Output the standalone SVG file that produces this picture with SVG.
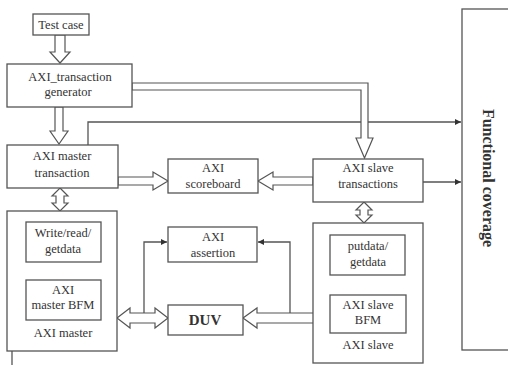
<svg xmlns="http://www.w3.org/2000/svg" width="508" height="365" viewBox="0 0 508 365">
<defs>
<style>
.box{fill:#fff;stroke:#555;stroke-width:1.3}
.t{font-family:"Liberation Serif","Times New Roman",serif;font-size:12.5px;fill:#333;text-anchor:middle}
.b{font-weight:bold}
.ln{fill:none;stroke:#555;stroke-width:1.3}
.ha{fill:#fff;stroke:#555;stroke-width:1.2;stroke-linejoin:miter}
</style>
<marker id="ah" viewBox="0 0 8 8" refX="8" refY="4" markerWidth="6" markerHeight="6" markerUnits="userSpaceOnUse" orient="auto">
<path d="M0,0 L8,4 L0,8 z" fill="#333"/>
</marker>
</defs>
<rect width="508" height="365" fill="#fff"/>

<g id="connectors">
<path class="ln" d="M88,145 V122 H461" marker-end="url(#ah)"/>
<path class="ln" d="M423,182 H461" marker-end="url(#ah)"/>
<path class="ln" d="M144,318 V242 H167" marker-end="url(#ah)"/>
<path class="ln" d="M290,318 V242 H258" marker-end="url(#ah)"/>
<path class="ln" d="M12,351 V365"/>
<polygon class="ha" points="55,35 65,35 65,52 70,52 60,63 50,52 55,52"/>
<polygon class="ha" points="55,107 63,107 63,131 68,131 59,144 50,131 55,131"/>
<polygon class="ha" points="60,188 68,196 64,196 64,203 68,203 60,211 52,203 56,203 56,196 52,196"/>
<polygon class="ha" points="118,177 153,177 153,172 168,181 153,190 153,185 118,185"/>
<polygon class="ha" points="313,177 273,177 273,172 258,181 273,190 273,185 313,185"/>
<polygon class="ha" points="132,83 368,83 368,138 373,138 364.5,158 356,138 361,138 361,90 132,90"/>
<polygon class="ha" points="364,202 372,210 368,210 368,215 372,215 364,223 356,215 360,215 360,210 356,210"/>
<polygon class="ha" points="365,275 373,282 369,282 369,288 373,288 365,295 357,288 361,288 361,282 357,282"/>
<polygon class="ha" points="117,318 130,308 130,313 155,313 155,308 168,318 155,328 155,323 130,323 130,328"/>
<polygon class="ha" points="243,318 257,308 257,313 316,313 316,308 330,318 316,328 316,323 257,323 257,328"/>
</g>

<g id="test-case">
<rect class="box" x="33" y="14" width="56" height="21"/>
<text class="t" x="61" y="29">Test case</text>
</g>

<g id="generator">
<rect class="box" x="7" y="64" width="125" height="43"/>
<text class="t" x="70" y="80.5">AXI_transaction</text>
<text class="t" x="68" y="95.5">generator</text>
</g>

<g id="master-transaction">
<rect class="box" x="7" y="145" width="111" height="43"/>
<text class="t" x="62" y="160">AXI master</text>
<text class="t" x="62" y="176.5">transaction</text>
</g>

<g id="scoreboard">
<rect class="box" x="168" y="159" width="90" height="34"/>
<text class="t" x="213" y="172">AXI</text>
<text class="t" x="213" y="187.5">scoreboard</text>
</g>

<g id="slave-transactions">
<rect class="box" x="313" y="159" width="110" height="43"/>
<text class="t" x="368" y="172">AXI slave</text>
<text class="t" x="368" y="188">transactions</text>
</g>

<g id="functional-coverage">
<rect class="box" x="462" y="9" width="60" height="341"/>
<text class="t b" x="178" y="-483" transform="rotate(90)" style="font-size:16px">Functional coverage</text>
</g>

<g id="axi-master">
<rect class="box" x="7" y="211" width="110" height="140"/>
<rect class="box" x="26" y="222" width="75" height="40"/>
<text class="t" x="63" y="236.5">Write/read/</text>
<text class="t" x="63" y="252.5">getdata</text>
<rect class="box" x="26" y="280" width="75" height="40"/>
<text class="t" x="63" y="294">AXI</text>
<text class="t" x="63" y="308.5">master BFM</text>
<text class="t" x="63" y="336.5">AXI master</text>
</g>

<g id="assertion">
<rect class="box" x="168" y="227" width="89" height="35"/>
<text class="t" x="213" y="240.5">AXI</text>
<text class="t" x="213" y="256.5">assertion</text>
</g>

<g id="duv">
<rect class="box" x="168" y="305" width="75" height="30"/>
<text class="t b" x="205" y="325" style="font-size:15px">DUV</text>
</g>

<g id="axi-slave">
<rect class="box" x="313" y="223" width="110" height="140"/>
<rect class="box" x="330" y="235" width="75" height="40"/>
<text class="t" x="368" y="249.5">putdata/</text>
<text class="t" x="368" y="266">getdata</text>
<rect class="box" x="330" y="295" width="76" height="38"/>
<text class="t" x="368" y="308.5">AXI slave</text>
<text class="t" x="368" y="324">BFM</text>
<text class="t" x="368" y="348.5">AXI slave</text>
</g>
</svg>
